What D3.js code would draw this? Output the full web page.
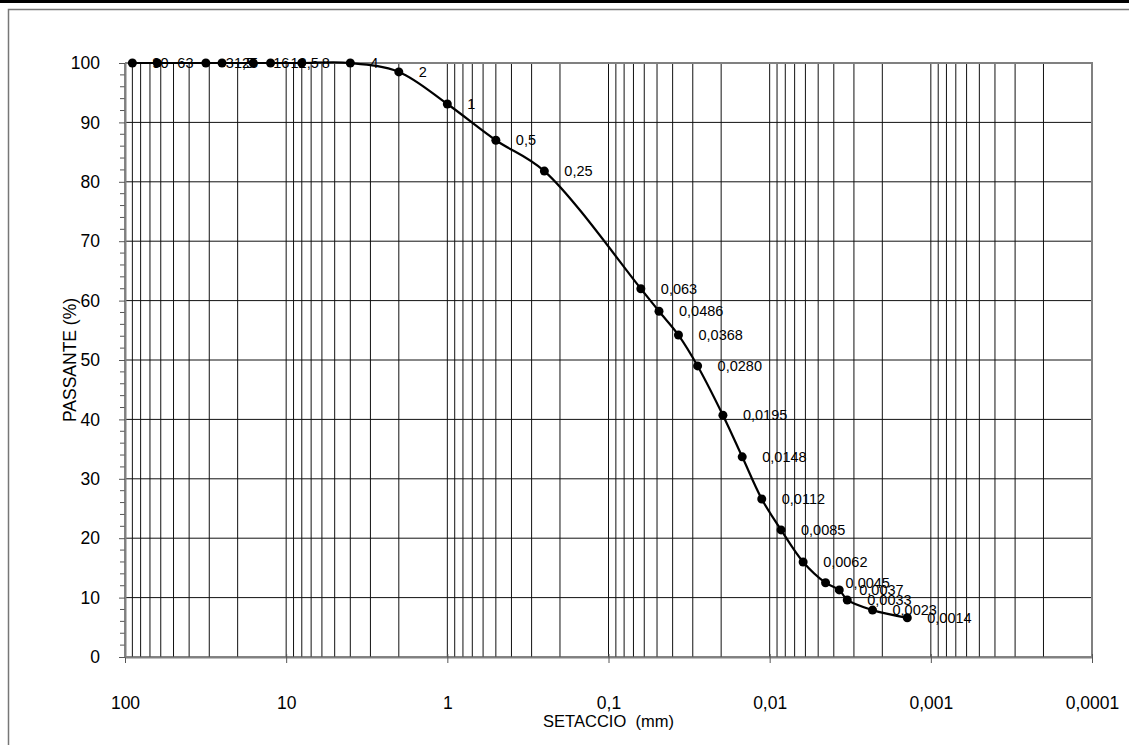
<!DOCTYPE html>
<html>
<head>
<meta charset="utf-8">
<script src="https://cdn.jsdelivr.net/npm/d3@7"></script>
<style>
    body { margin: 0; background: #fff; }
    svg { display: block; font-family: "Liberation Sans", Arial, sans-serif; }
</style>
</head>
<body>
<div id="chart"></div>
<script>
// Sieve sizes (mm) and the label shown next to each point
var sieves = [90, 63, 31.5, 25, 16, 12.5, 8, 4, 2, 1, 0.5, 0.25, 0.063, 0.0486, 0.0368, 0.0280,
              0.0195, 0.0148, 0.0112, 0.0085, 0.0062, 0.0045, 0.0037, 0.0033, 0.0023, 0.0014];
var pointLabels = ["90", "63", "31,5", "25", "16", "12,5", "8", "4", "2", "1", "0,5", "0,25", "0,063",
                   "0,0486", "0,0368", "0,0280", "0,0195", "0,0148", "0,0112", "0,0085", "0,0062",
                   "0,0045", "0,0037", "0,0033", "0,0023", "0,0014"];
// Percentage passing
var passing = [100, 100, 100, 100, 100, 100, 100, 100, 98.5, 93.1, 87.0, 81.8, 62.0,
               58.2, 54.2, 49.0, 40.7, 33.7, 26.6, 21.4, 16.0, 12.5, 11.3, 9.6, 7.9, 6.6];

// Axis ticks
var xTicks = [100, 10, 1, 0.1, 0.01, 0.001, 0.0001];
var xTickLabels = ["100", "10", "1", "0,1", "0,01", "0,001", "0,0001"];
var yTicks = [0, 10, 20, 30, 40, 50, 60, 70, 80, 90, 100];

function init() {
    var w = 1129;
    var h = 745;
    var left = 125, right = 1092, top = 63, bottom = 657;

    var svg = d3.select("#chart")
                .append("svg")
                .attr("width", w)
                .attr("height", h);

    // page frame: thick bar on top and thin gray frame
    svg.append("rect").attr("x", 0).attr("y", 0).attr("width", w).attr("height", 3).attr("fill", "#000");
    svg.append("path")
        .attr("d", "M8.5," + h + "V9.5H" + w)
        .attr("fill", "none")
        .attr("stroke", "#777")
        .attr("stroke-width", 1.5);

    // log scale, reversed (big sizes on the left)
    var xScale = d3.scaleLog()
                    .domain([100, 0.0001])
                    .range([left, right]);

    var yScale = d3.scaleLinear()
                    .domain([0, 100])
                    .range([bottom, top]);

    // vertical grid: every 1..9 of each decade
    var gridX = [];
    for (var e = -4; e < 2; e++) {
        for (var m = 1; m <= 9; m++) {
            gridX.push(m * Math.pow(10, e));
        }
    }
    gridX.push(100);

    svg.append("g")
        .selectAll("line")
        .data(gridX)
        .enter()
        .append("line")
        .attr("x1", function(d) { return xScale(d); })
        .attr("x2", function(d) { return xScale(d); })
        .attr("y1", top)
        .attr("y2", bottom)
        .attr("stroke", "#111")
        .attr("stroke-width", 1);

    // horizontal grid
    svg.append("g")
        .selectAll("line")
        .data(yTicks)
        .enter()
        .append("line")
        .attr("x1", left)
        .attr("x2", right)
        .attr("y1", function(d) { return yScale(d); })
        .attr("y2", function(d) { return yScale(d); })
        .attr("stroke", "#111")
        .attr("stroke-width", 1);

    // plot area border (top and right)
    svg.append("path")
        .attr("d", "M" + left + "," + top + "H" + right + "V" + bottom)
        .attr("fill", "none")
        .attr("stroke", "#808080")
        .attr("stroke-width", 2);

    // x axis
    var xAxis = d3.axisBottom(xScale)
                    .tickValues(xTicks)
                    .tickFormat(function(d, i) { return xTickLabels[i]; })
                    .tickSizeInner(6)
                    .tickSizeOuter(0)
                    .tickPadding(34);
    var gx = svg.append("g")
        .attr("transform", "translate(0," + bottom + ")")
        .call(xAxis);
    gx.select(".domain").attr("stroke", "#808080").attr("stroke-width", 2);
    gx.selectAll(".tick line").attr("stroke", "#555").attr("y1", -3);
    gx.selectAll(".tick text")
        .attr("font-family", "Liberation Sans, Arial, sans-serif")
        .attr("font-size", "17.5px")
        .attr("fill", "#000");

    // y axis with minor ticks every 2
    var yMinor = d3.range(0, 101, 2).filter(function(d) { return d % 10 !== 0; });
    svg.append("g")
        .selectAll("line")
        .data(yMinor)
        .enter()
        .append("line")
        .attr("x1", left - 5)
        .attr("x2", left)
        .attr("y1", function(d) { return yScale(d); })
        .attr("y2", function(d) { return yScale(d); })
        .attr("stroke", "#555");

    var yAxis = d3.axisLeft(yScale)
                    .tickValues(yTicks)
                    .tickSizeInner(6)
                    .tickSizeOuter(0)
                    .tickPadding(19);
    var gy = svg.append("g")
        .attr("transform", "translate(" + left + ",0)")
        .call(yAxis);
    gy.select(".domain").attr("stroke", "#808080").attr("stroke-width", 2);
    gy.selectAll(".tick line").attr("stroke", "#555");
    gy.selectAll(".tick text")
        .attr("font-family", "Liberation Sans, Arial, sans-serif")
        .attr("font-size", "17.5px")
        .attr("fill", "#000");

    // axis titles
    svg.append("text")
        .attr("x", (left + right) / 2)
        .attr("y", 727)
        .attr("text-anchor", "middle")
        .attr("font-size", "16.5px")
        .attr("xml:space", "preserve")
        .style("white-space", "pre")
        .text("SETACCIO  (mm)");

    svg.append("text")
        .attr("transform", "translate(76," + ((top + bottom) / 2) + ") rotate(-90)")
        .attr("text-anchor", "middle")
        .attr("font-size", "17.5px")
        .text("PASSANTE (%)");

    // data points
    var points = sieves.map(function(d, i) {
        return { size: d, pass: passing[i], label: pointLabels[i] };
    });

    var line = d3.line()
                .x(function(d) { return xScale(d.size); })
                .y(function(d) { return yScale(d.pass); })
                .curve(d3.curveCatmullRom.alpha(0.5));

    svg.append("path")
        .datum(points)
        .attr("d", line)
        .attr("fill", "none")
        .attr("stroke", "#000")
        .attr("stroke-width", 2.2);

    // labels first so the markers sit over them
    svg.append("g")
        .selectAll("text")
        .data(points)
        .enter()
        .append("text")
        .attr("x", function(d) { return xScale(d.size) + 20; })
        .attr("y", function(d) { return yScale(d.pass) + 5; })
        .attr("font-size", "14.5px")
        .attr("fill", "#000")
        .text(function(d) { return d.label; });

    svg.append("g")
        .selectAll("circle")
        .data(points)
        .enter()
        .append("circle")
        .attr("cx", function(d) { return xScale(d.size); })
        .attr("cy", function(d) { return yScale(d.pass); })
        .attr("r", 4.5)
        .attr("fill", "#000");
}

window.onload = init;
</script>
</body>
</html>
